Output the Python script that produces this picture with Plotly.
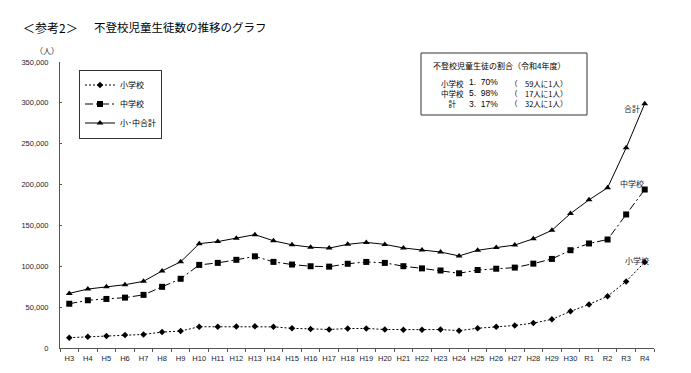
import plotly.graph_objects as go

years = ["H3", "H4", "H5", "H6", "H7", "H8", "H9", "H10", "H11", "H12", "H13", "H14",
         "H15", "H16", "H17", "H18", "H19", "H20", "H21", "H22", "H23", "H24", "H25",
         "H26", "H27", "H28", "H29", "H30", "R1", "R2", "R3", "R4"]

elementary = [12645, 13710, 14769, 15786, 16569, 19498, 20765, 26017, 26047, 26373,
              26511, 25869, 24077, 23318, 22709, 23825, 23927, 22652, 22327, 22463,
              22622, 21243, 24175, 25864, 27583, 30448, 35032, 44841, 53350, 63350,
              81498, 105112]

junior = [54172, 58421, 60039, 61663, 65022, 74853, 84701, 101675, 104180, 107913,
          112211, 105383, 102149, 100040, 99578, 103069, 105328, 104153, 100105, 97428,
          94836, 91446, 95442, 97033, 98408, 103235, 108999, 119687, 127922, 132777,
          163442, 193936]

total = [66817, 72131, 74808, 77449, 81591, 94351, 105466, 127692, 130227, 134286,
         138722, 131252, 126226, 123358, 122287, 126894, 129255, 126805, 122432, 119891,
         117458, 112689, 119617, 122897, 125991, 133683, 144031, 164528, 181272, 196127,
         244940, 299048]

yticks = [0, 50000, 100000, 150000, 200000, 250000, 300000, 350000]

box_labels = ["小学校", "中学校", "計"]
box_pcts = ["1. 70%", "5. 98%", "3. 17%"]
box_ratios = ["59人に1人）", "17人に1人）", "32人に1人）"]

FONT = "Liberation Sans, Arial, Noto Sans CJK JP, sans-serif"
JFONT = "Noto Sans CJK JP, sans-serif"
TXT = "#1a1a2e"

# page body has an 8px margin: figure is placed at (8, 8) in the window
OFF = 8
W, H = 691 - OFF, 373 - OFF
PL, PR, PT, PB = 60, 654, 62, 348  # plot area in window pixels

fig = go.Figure()
fig.add_trace(go.Scatter(
    x=years, y=elementary, name="小学校", mode="lines+markers",
    line=dict(color="black", width=1, dash="2px,2px"),
    marker=dict(symbol="diamond", size=5, color="black"),
))
fig.add_trace(go.Scatter(
    x=years, y=junior, name="中学校", mode="lines+markers",
    line=dict(color="black", width=1, dash="8px,3px,2px,3px"),
    marker=dict(symbol="square", size=6, color="black"),
))
fig.add_trace(go.Scatter(
    x=years, y=total, name="小･中合計", mode="lines+markers",
    line=dict(color="black", width=1),
    marker=dict(symbol="triangle-up", size=6, color="black"),
))


def px(xp):
    return (xp - PL) / (PR - PL)


def py(yp):
    return (PB - yp) / (PB - PT)


fig.update_layout(
    width=W, height=H, autosize=False,
    margin=dict(l=PL - OFF, r=W - (PR - OFF), t=PT - OFF, b=H - (PB - OFF), autoexpand=False),
    paper_bgcolor="white", plot_bgcolor="white",
    font=dict(family=FONT, size=7.5, color=TXT),
    showlegend=True,
    legend=dict(
        x=px(79), y=py(104), xanchor="left", yanchor="middle",
        bordercolor="#333", borderwidth=1, bgcolor="white",
        font=dict(family=JFONT, size=8, color="black"),
        tracegroupgap=0, itemwidth=30,
    ),
)

fig.update_xaxes(
    type="category", range=[-0.5, len(years) - 0.5],
    showline=True, linecolor="#555", linewidth=1,
    ticks="outside", tickson="boundaries", ticklen=3, tickcolor="#555",
    showgrid=False, zeroline=False, tickangle=0, automargin=False,
    tickfont=dict(family=FONT, size=7.5, color=TXT),
    ticklabelstandoff=3,
)
fig.update_yaxes(
    range=[0, 350000], tickvals=yticks, tickformat=",d",
    showline=True, linecolor="#555", linewidth=1,
    ticks="inside", ticklen=2, tickcolor="#555",
    showgrid=False, zeroline=False, automargin=False,
    tickfont=dict(family=FONT, size=7.5, color=TXT),
    ticklabelstandoff=9,
)

# titles
fig.add_annotation(xref="paper", yref="paper", x=px(21), y=py(27), xanchor="left", yanchor="middle",
                   text="＜参考2＞", showarrow=False, font=dict(family=JFONT, size=12, color="black"))
fig.add_annotation(xref="paper", yref="paper", x=px(92), y=py(27), xanchor="left", yanchor="middle",
                   text="不登校児童生徒数の推移のグラフ", showarrow=False,
                   font=dict(family=JFONT, size=11.5, color="black"))
fig.add_annotation(xref="paper", yref="paper", x=px(47), y=py(50), xanchor="center", yanchor="middle",
                   text="（人）", showarrow=False, font=dict(family=JFONT, size=8, color=TXT))

# info box
fig.add_shape(type="rect", xref="paper", yref="paper",
              x0=px(421), x1=px(587), y0=py(115), y1=py(53),
              line=dict(color="#333", width=1), fillcolor="white")

box_font = dict(family=JFONT, size=7.5, color="black")
fig.add_annotation(xref="paper", yref="paper", x=px(431), y=py(65), xanchor="left", yanchor="middle",
                   text="不登校児童生徒の割合（令和4年度）", showarrow=False,
                   font=dict(family=JFONT, size=8, color="black"))
fig.add_annotation(xref="paper", yref="paper", x=px(452), y=py(93), xanchor="center", yanchor="middle",
                   text="<br>".join(box_labels), align="center", showarrow=False, font=box_font)
fig.add_annotation(xref="paper", yref="paper", x=px(467), y=py(93), xanchor="left", yanchor="middle",
                   text="<br>".join(p.replace(" ", "  ") for p in box_pcts), align="left",
                   showarrow=False, font=dict(family=FONT, size=8.5, color="black"))
fig.add_annotation(xref="paper", yref="paper", x=px(508), y=py(93), xanchor="left", yanchor="middle",
                   text="<br>".join(["（"] * 3), align="left", showarrow=False, font=box_font)
fig.add_annotation(xref="paper", yref="paper", x=px(523), y=py(93), xanchor="left", yanchor="middle",
                   text="<br>".join(box_ratios), align="left", showarrow=False, font=box_font)

# series end labels
lab_font = dict(family=JFONT, size=8, color=TXT)
fig.add_annotation(xref="paper", yref="paper", x=px(632), y=py(108), xanchor="center", yanchor="middle",
                   text="合計", showarrow=False, font=lab_font)
fig.add_annotation(xref="paper", yref="paper", x=px(632), y=py(183), xanchor="center", yanchor="middle",
                   text="中学校", showarrow=False, font=lab_font)
fig.add_annotation(xref="paper", yref="paper", x=px(637), y=py(260), xanchor="center", yanchor="middle",
                   text="小学校", showarrow=False, font=lab_font)

fig.write_html("out.html")
